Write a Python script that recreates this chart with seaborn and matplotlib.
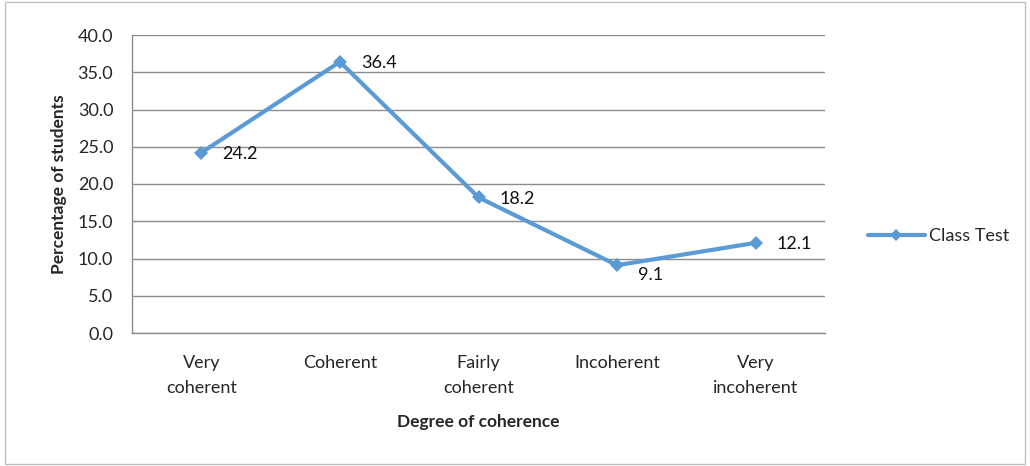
import matplotlib
matplotlib.use("Agg")
from matplotlib import pyplot as plt
import seaborn as sns
import pandas as pd

categories = ["Very\ncoherent", "Coherent", "Fairly\ncoherent", "Incoherent", "Very\nincoherent"]
values = [24.2, 36.4, 18.2, 9.1, 12.1]
series_name = "Class Test"
y_ticks = [0, 5, 10, 15, 20, 25, 30, 35, 40]

df = pd.DataFrame({"category": categories, "value": values, "series": series_name})

sns.set_style("white")
plt.rcParams["font.family"] = ["Lato", "DejaVu Sans"]

fig = plt.figure(figsize=(10.3, 4.66), dpi=100)
ax = fig.add_axes([132 / 1030, 1 - 333 / 466, 693 / 1030, 298 / 466])

blue = "#5B9BD5"
sns.lineplot(data=df, x="category", y="value", hue="series", palette=[blue],
             marker="D", markersize=7, markeredgewidth=0, linewidth=3, sort=False, ax=ax)

for i, v in enumerate(values):
    ax.annotate(f"{v:.1f}", (i, v), xytext=(15, -1), textcoords="offset points",
                va="top" if i == 3 else "center", ha="left", fontsize=13, color="#111111")

ax.set_xlim(-0.5, len(categories) - 0.5)
ax.set_ylim(0, 40)
ax.set_yticks(y_ticks)
ax.set_yticklabels([f"{t:.1f}" for t in y_ticks], fontsize=13)
ax.set_xticks(range(len(categories)))
ax.set_xticklabels(categories, fontsize=13, linespacing=1.7)
ax.tick_params(axis="x", pad=12)
ax.tick_params(axis="y", pad=10)
ax.grid(axis="y", color="#8c8c8c", linewidth=1)
ax.set_axisbelow(True)
for s in ["top", "right"]:
    ax.spines[s].set_visible(False)
for s in ["left", "bottom"]:
    ax.spines[s].set_color("#8c8c8c")
    ax.spines[s].set_linewidth(1)

ax.set_xlabel("Degree of coherence", fontsize=12.5, fontweight="bold", labelpad=13)
ax.set_ylabel("Percentage of students", fontsize=12.5, fontweight="bold", labelpad=8)

leg = ax.legend(loc="center left", bbox_to_anchor=(1.038, 0.325), frameon=False,
                fontsize=13, handlelength=3.2, handletextpad=0.2)
for h in leg.get_lines():
    h.set_linewidth(3)
    h.set_markersize(6)

fig.patches.append(plt.Rectangle((0.005, 0.005), 0.99, 0.99, transform=fig.transFigure,
                                 fill=False, edgecolor="#bfbfbf", linewidth=1))

fig.savefig("out.png", dpi=100)
